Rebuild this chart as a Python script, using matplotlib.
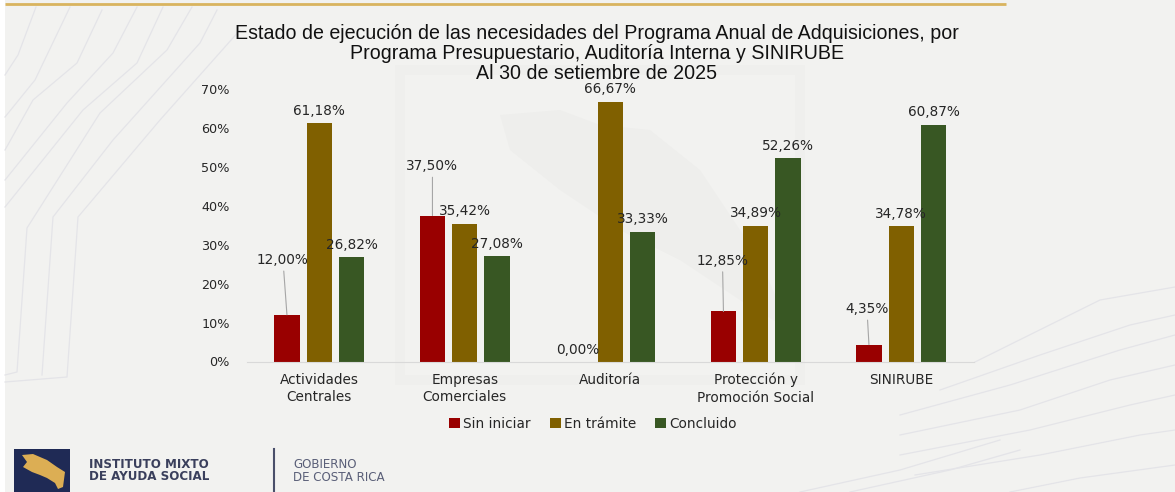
import numpy as np
import matplotlib
matplotlib.use('Agg')
from matplotlib import pyplot as plt
from matplotlib.patches import Polygon, Rectangle

W, H = 1175, 492

categories = ['Actividades\nCentrales', 'Empresas\nComerciales', 'Auditoría', 'Protección y\nPromoción Social', 'SINIRUBE']
sin_iniciar = [12.00, 37.50, 0.00, 12.85, 4.35]
en_tramite = [61.18, 35.42, 66.67, 34.89, 34.78]
concluido = [26.82, 27.08, 33.33, 52.26, 60.87]
yticks = [0, 10, 20, 30, 40, 50, 60, 70]
series_names = ['Sin iniciar', 'En trámite', 'Concluido']

title = ('Estado de ejecución de las necesidades del Programa Anual de Adquisiciones, por\n'
         'Programa Presupuestario, Auditoría Interna y SINIRUBE\n'
         'Al 30 de setiembre de 2025')

RED = '#990000'
GOLD = '#806000'
GREEN = '#385723'
NAVY = '#1f2a55'
BG = '#f2f2f0'
LINE = '#e4e4e8'
TXT = '#262626'
FS = 9.8

# contour lines of the slide background, pixels
contours = [
    [(36, 7), (18, 55), (5, 75)],
    [(70, 7), (35, 80), (5, 117)],
    [(102, 10), (77, 63), (33, 100), (5, 150)],
    [(137, 7), (113, 53), (67, 103), (5, 180)],
    [(163, 7), (137, 63), (83, 110), (5, 207)],
    [(192, 7), (167, 50), (100, 113), (27, 228), (17, 372), (5, 375)],
    [(217, 10), (200, 43), (113, 140), (53, 217), (42, 375)],
    [(240, 30), (160, 120), (78, 217), (67, 377), (5, 382)],
    [(975, 362), (1100, 300), (1175, 287)],
    [(940, 390), (1040, 355), (1130, 325), (1175, 315)],
    [(900, 415), (1010, 385), (1120, 350), (1175, 335)],
    [(900, 435), (1020, 410), (1110, 380), (1175, 365)],
    [(900, 455), (1030, 430), (1130, 405), (1175, 395)],
    [(915, 475), (1040, 455), (1140, 435), (1175, 430)],
    [(1010, 492), (1080, 478), (1175, 465)],
    [(800, 492), (900, 470), (1000, 440)],
    [(850, 492), (950, 470), (1020, 450)],
]


def pct(v):
    return f'{v:.2f}%'.replace('.', ',')


fig = plt.figure(figsize=(W / 100, H / 100), dpi=100, facecolor=BG)

# full figure layer in pixel coords for the slide decoration
deco = fig.add_axes([0, 0, 1, 1], zorder=0)
deco.set_xlim(0, W)
deco.set_ylim(H, 0)
deco.axis('off')
for c in contours:
    deco.plot([p[0] for p in c], [p[1] for p in c], color=LINE, lw=0.9)
deco.add_patch(Rectangle((400, 70), 400, 310, fc='none', ec='#efefed', lw=7))
deco.add_patch(Polygon([(500, 115), (560, 110), (600, 125), (650, 130), (700, 170), (760, 260), (790, 330),
                        (740, 300), (680, 260), (620, 230), (560, 190), (510, 150)], fc='#eeeeec', ec='none'))
deco.add_patch(Rectangle((0, 0), 4.5, H, fc='white', ec='none'))
deco.plot([4.5, 1006], [4, 4], color='#d9b45f', lw=2, solid_capstyle='butt')

# logo
deco.add_patch(Rectangle((14, 449), 56, 43, fc=NAVY, ec='none'))
deco.add_patch(Polygon([(22, 455), (33, 454), (47, 460), (57, 467), (65, 472), (63, 487), (58, 489), (55, 483),
                        (47, 478), (40, 475), (32, 472), (23, 467), (27, 462)], fc='#dcae54', ec='none'))
deco.text(89, 464, 'INSTITUTO MIXTO', fontsize=8.6, fontweight='bold', color='#3a3f5c',
          family='DejaVu Sans', va='center')
deco.text(89, 477, 'DE AYUDA SOCIAL', fontsize=8.6, fontweight='bold', color='#3a3f5c',
          family='DejaVu Sans', va='center')
deco.plot([274, 274], [449, 492], color='#4a4f6a', lw=1.5)
deco.text(293, 464, 'GOBIERNO', fontsize=8.6, color='#5a5f78', family='DejaVu Sans', va='center')
deco.text(293, 477.5, 'DE COSTA RICA', fontsize=8.6, color='#5a5f78', family='DejaVu Sans', va='center')

deco.text(597, 53.5, title, fontsize=14.1, family='Liberation Sans', color='#111111',
          ha='center', va='center', linespacing=1.08)

# chart
ax = fig.add_axes([246.5 / W, (H - 361.5) / H, 727.5 / W, 272.5 / H], zorder=1)
ax.patch.set_alpha(0)
x = np.arange(len(categories))
off = 0.222
bw = 0.175
b1 = ax.bar(x - off, sin_iniciar, bw, color=RED, label=series_names[0])
b2 = ax.bar(x, en_tramite, bw, color=GOLD, label=series_names[1])
b3 = ax.bar(x + off, concluido, bw, color=GREEN, label=series_names[2])

ax.set_xlim(-0.5, 4.5)
ax.set_ylim(0, 70)
ax.set_yticks(yticks)
ax.set_yticklabels([f'{t}%' for t in yticks], fontsize=9.2, color=TXT)
ax.set_xticks(x)
ax.set_xticklabels(categories, fontsize=FS, color=TXT, linespacing=1.32)
ax.tick_params(length=0, axis='both')
ax.tick_params(axis='y', pad=12)
ax.tick_params(axis='x', pad=8)
for s in ['top', 'right', 'left']:
    ax.spines[s].set_visible(False)
ax.spines['bottom'].set_color('#d9d9d9')

# value labels; the first series has its labels pulled away with a leader line
first_dx = [-4, 0, 0, -1, -2]      # px from the bar centre
first_y = [26.1, 50.2, 3.0, 25.9, 13.5]
for i in range(len(categories)):
    v = sin_iniciar[i]
    props = None
    if v > 0:
        props = dict(arrowstyle='-', color='#a6a6a6', lw=0.8, shrinkA=1, shrinkB=0)
    ax.annotate(pct(v), xy=(i - off, v), xycoords='data',
                xytext=(i - off + first_dx[i] / 145.5, first_y[i]), textcoords='data',
                fontsize=FS, ha='center', va='center', color=TXT, arrowprops=props, annotation_clip=False)
    for xpos, val in [(i, en_tramite[i]), (i + off, concluido[i])]:
        ax.annotate(pct(val), xy=(xpos, val), xytext=(0, 9), textcoords='offset points',
                    fontsize=FS, ha='center', va='center', color=TXT, annotation_clip=False)

fig.legend(handles=[b1, b2, b3], labels=series_names, loc='center', bbox_to_anchor=(593 / W, (H - 424) / H),
           ncol=3, frameon=False, fontsize=FS, handlelength=0.8, handleheight=0.8, handletextpad=0.25,
           columnspacing=1.4, labelcolor=TXT)

fig.savefig('out.png', dpi=100, facecolor=fig.get_facecolor())
